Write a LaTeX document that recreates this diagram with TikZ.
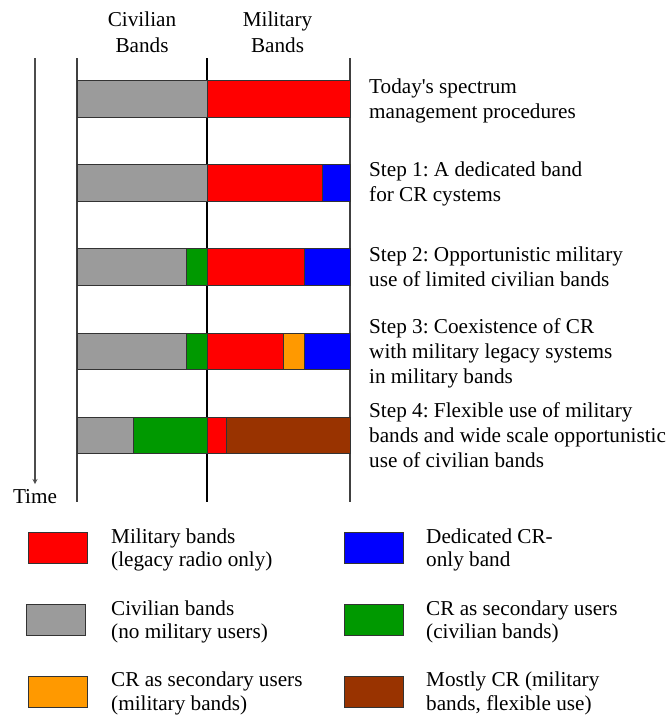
\documentclass[tikz,border=0pt]{standalone}
\usepackage{fontspec}
\setmainfont{Liberation Serif}
\usetikzlibrary{arrows,positioning}

\definecolor{civgray}{HTML}{9B9B9B}
\definecolor{milred}{HTML}{FF0000}
\definecolor{crblue}{HTML}{0000FF}
\definecolor{crgreen}{HTML}{009900}
\definecolor{crorange}{HTML}{FF9900}
\definecolor{crbrown}{HTML}{993300}

\begin{document}
\frenchspacing
\begin{tikzpicture}
[x=1pt, y=-1pt, >=stealth,
seg/.style={draw=black!80, line width=0.8pt},
key/.style={draw=black!80, line width=0.8pt, minimum width=59pt, minimum height=31pt, inner sep=0pt},
rule/.style={draw=black!75, line width=1.3pt},
note/.style={anchor=base west, align=left, inner sep=0pt, font=\fontsize{21.2}{25}\selectfont},
keytext/.style={anchor=base west, align=left, inner sep=0pt, font=\fontsize{21.2}{23.5}\selectfont},
head/.style={anchor=base, align=center, inner sep=0pt, font=\fontsize{21.2}{26}\selectfont}
]
  \useasboundingbox (0,0) rectangle (669,715);

  % column heads (base = last line)
  \node[head] (civhead) at (142,52.7)   {Civilian\\Bands};
  \node[head] (milhead) at (277.5,52.7) {Military\\Bands};

  % vertical rules and time axis
  \coordinate (ltop) at (77,58);   \coordinate (lbot) at (77,502);
  \coordinate (mtop) at (207,58);  \coordinate (mbot) at (207,502);
  \coordinate (rtop) at (350,58);  \coordinate (rbot) at (350,502);
  \coordinate (tstart) at (35,58); \coordinate (tend) at (35,484);
  \draw[rule] (ltop) -- (lbot);
  \draw[rule, draw=black] (mtop) -- (mbot);
  \draw[rule] (rtop) -- (rbot);
  \draw[->, draw=black!70, line width=1.2pt] (tstart) -- (tend);
  \node[head] (time) at (35,503) {Time};

  % today
  \draw[seg, fill=civgray] (77,80) rectangle (207,117);
  \draw[seg, fill=milred]  (207,80) rectangle (350,117);
  % step 1
  \draw[seg, fill=civgray] (77,164) rectangle (207,201);
  \draw[seg, fill=milred]  (207,164) rectangle (322,201);
  \draw[seg, fill=crblue]  (322,164) rectangle (350,201);
  % step 2
  \draw[seg, fill=civgray] (77,248) rectangle (186,285);
  \draw[seg, fill=crgreen] (186,248) rectangle (207,285);
  \draw[seg, fill=milred]  (207,248) rectangle (304,285);
  \draw[seg, fill=crblue]  (304,248) rectangle (350,285);
  % step 3
  \draw[seg, fill=civgray]  (77,333) rectangle (186,369);
  \draw[seg, fill=crgreen]  (186,333) rectangle (207,369);
  \draw[seg, fill=milred]   (207,333) rectangle (283,369);
  \draw[seg, fill=crorange] (283,333) rectangle (304,369);
  \draw[seg, fill=crblue]   (304,333) rectangle (350,369);
  % step 4
  \draw[seg, fill=civgray] (77,417) rectangle (133,453);
  \draw[seg, fill=crgreen] (133,417) rectangle (207,453);
  \draw[seg, fill=milred]  (207,417) rectangle (226,453);
  \draw[seg, fill=crbrown] (226,417) rectangle (350,453);

  % step notes (base = last line)
  \node[note] (today) at (369,118.3) {Today\textquotesingle s spectrum\\management procedures};
  \node[note] (step1) at (369,201.7) {Step 1: A dedicated band\\for CR cystems};
  \node[note] (step2) at (369,286.7) {Step 2: Opportunistic military\\use of limited civilian bands};
  \node[note] (step3) at (369,383.3) {Step 3: Coexistence of CR\\with military legacy systems\\in military bands};
  \node[note] (step4) at (369,467)   {Step 4: Flexible use of military\\bands and wide scale opportunistic\\use of civilian bands};

  % legend
  \node[key, fill=milred]   (keymil)    at (58,547.5)  {};
  \node[key, fill=civgray]  (keyciv)    at (56,619.5)  {};
  \node[key, fill=crorange] (keyorange) at (58,692)    {};
  \node[key, fill=crblue]   (keyblue)   at (373.5,547.5) {};
  \node[key, fill=crgreen]  (keygreen)  at (373.5,619.5) {};
  \node[key, fill=crbrown]  (keybrown)  at (373.5,692)   {};

  \node[keytext] (txtmil)    at (111,566.7) {Military bands\\(legacy radio only)};
  \node[keytext] (txtciv)    at (111,638.5) {Civilian bands\\(no military users)};
  \node[keytext] (txtorange) at (111,710)   {CR as secondary users\\(military bands)};
  \node[keytext] (txtblue)   at (426,566.7) {Dedicated CR-\\only band};
  \node[keytext] (txtgreen)  at (426,638.5) {CR as secondary users\\(civilian bands)};
  \node[keytext] (txtbrown)  at (426,710)   {Mostly CR (military\\bands, flexible use)};
\end{tikzpicture}
\end{document}
